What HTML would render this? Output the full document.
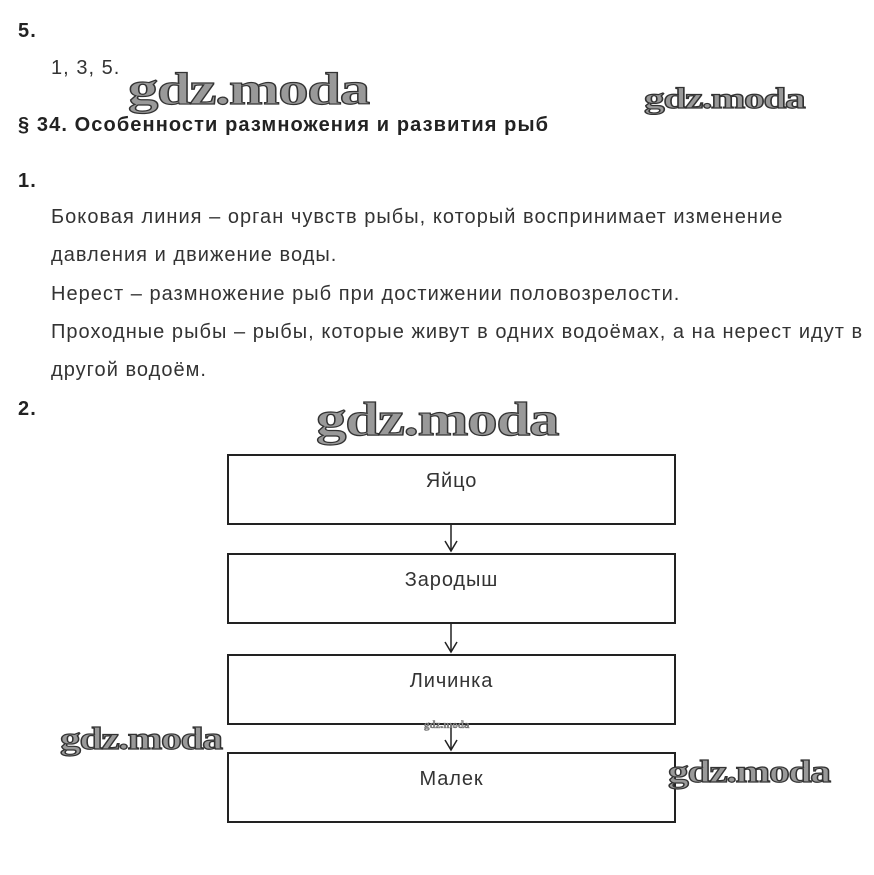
<!DOCTYPE html>
<html><head><meta charset="utf-8"><style>
body{margin:0;width:874px;height:875px;background:#fff;position:relative;overflow:hidden;font-family:"Liberation Sans",sans-serif;color:#333}
.t{position:absolute;font-size:20px;letter-spacing:1.03px;white-space:nowrap}
.b{font-weight:bold;color:#222;letter-spacing:1.1px}
.box{position:absolute;left:227px;width:445px;height:67px;border:2px solid #222;text-align:center;font-size:20px;letter-spacing:0.9px;line-height:50px;color:#333}
.w{position:absolute;font-family:"Liberation Serif",serif;font-weight:bold;color:#999;-webkit-text-stroke:1.2px #333;white-space:nowrap;letter-spacing:-1px;transform-origin:0 0;transform:scaleX(1.32)}
svg{position:absolute;left:0;top:0}
</style></head><body>
<div class="t b" style="left:18px;top:20px">5.</div>
<div class="t" style="left:51px;top:57px">1, 3, 5.</div>
<div class="t b" style="left:18px;top:114px">§ 34. Особенности размножения и развития рыб</div>
<div class="t b" style="left:18px;top:170px">1.</div>
<div class="t" style="left:51px;top:206px">Боковая линия – орган чувств рыбы, который воспринимает изменение</div>
<div class="t" style="left:51px;top:244px">давления и движение воды.</div>
<div class="t" style="left:51px;top:283px">Нерест – размножение рыб при достижении половозрелости.</div>
<div class="t" style="left:51px;top:321px">Проходные рыбы – рыбы, которые живут в одних водоёмах, а на нерест идут в</div>
<div class="t" style="left:51px;top:359px">другой водоём.</div>
<div class="t b" style="left:18px;top:398px">2.</div>
<div class="box" style="top:454px">Яйцо</div>
<div class="box" style="top:553px">Зародыш</div>
<div class="box" style="top:654px">Личинка</div>
<div class="box" style="top:752px">Малек</div>
<svg width="874" height="875">
<g stroke="#222" stroke-width="1.5" fill="none">
<line x1="451" y1="525" x2="451" y2="551"/><polyline points="445,541 451,551 457,541"/>
<line x1="451" y1="624" x2="451" y2="652"/><polyline points="445,642 451,652 457,642"/>
<line x1="451" y1="725" x2="451" y2="750"/><polyline points="445,740 451,750 457,740"/>
</g></svg>
<div class="w" style="left:128px;top:62px;font-size:46px">gdz.moda</div>
<div class="w" style="left:644px;top:82px;font-size:30px;transform:scaleX(1.38)">gdz.moda</div>
<div class="w" style="left:316px;top:392px;font-size:48px;transform:scaleX(1.27)">gdz.moda</div>
<div class="w" style="left:60px;top:720px;font-size:32px;transform:scaleX(1.3)">gdz.moda</div>
<div class="w" style="left:668px;top:753px;font-size:32px;transform:scaleX(1.3)">gdz.moda</div>
<div class="w" style="left:424px;top:719px;font-size:11px;-webkit-text-stroke:0.3px #333;letter-spacing:0;transform:none">gdz.moda</div>
</body></html>
